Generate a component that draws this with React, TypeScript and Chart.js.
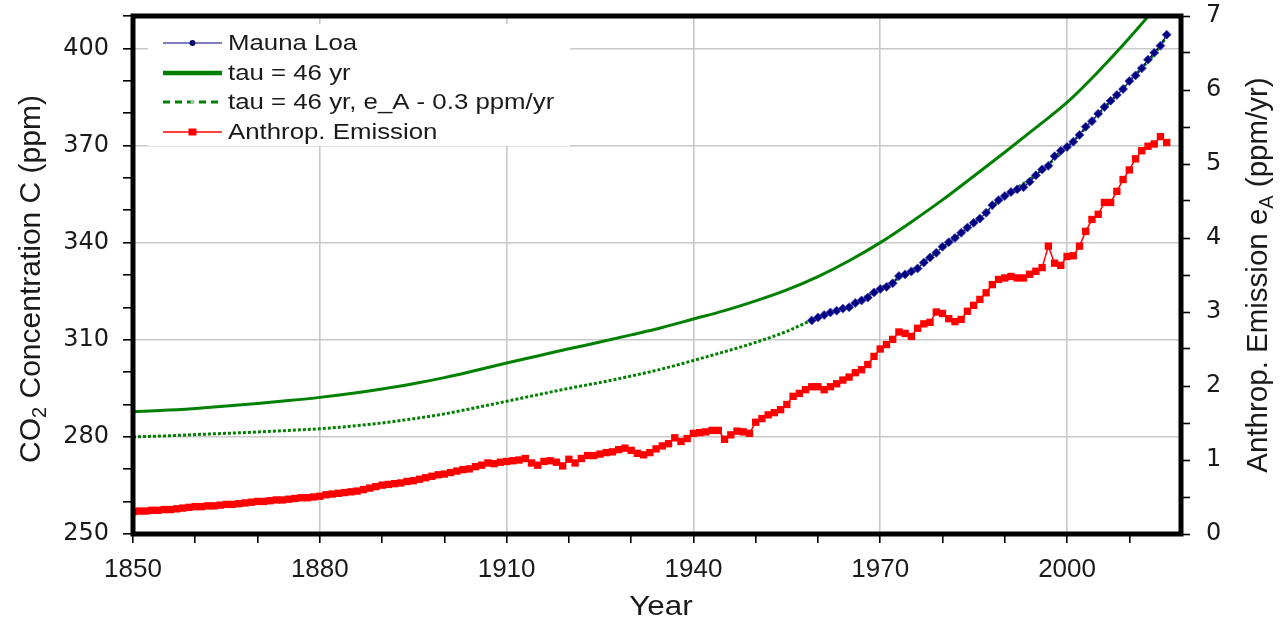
import React, { useEffect, useRef } from 'react';
import { Chart, registerables } from 'chart.js';

Chart.register(...registerables);

// ---------------- data ----------------
const MAUNA_LOA_START = 1959;
const MAUNA_LOA = [
  315.97, 316.91, 317.64, 318.45, 318.99, 319.62, 320.04, 321.38, 322.16, 323.04,
  324.62, 325.68, 326.32, 327.45, 329.68, 330.18, 331.11, 332.04, 333.83, 335.4,
  336.84, 338.75, 340.11, 341.45, 343.05, 344.65, 346.12, 347.42, 349.19, 351.57,
  353.12, 354.39, 355.61, 356.45, 357.1, 358.83, 360.82, 362.61, 363.73, 366.7,
  368.38, 369.55, 371.14, 373.28, 375.8, 377.52, 379.8, 381.9, 383.79, 385.6,
  387.43, 389.9, 391.65, 393.85, 396.52, 398.65, 400.83, 404.24,
];

const EMISSION_START = 1850;
const EMISSION = [
  0.30, 0.31, 0.31, 0.32, 0.32, 0.33, 0.33, 0.34, 0.35, 0.36,
  0.37, 0.37, 0.38, 0.38, 0.39, 0.40, 0.40, 0.41, 0.42, 0.43,
  0.44, 0.44, 0.45, 0.46, 0.46, 0.47, 0.48, 0.49, 0.49, 0.50,
  0.51, 0.53, 0.54, 0.55, 0.56, 0.57, 0.58, 0.60, 0.62, 0.64,
  0.66, 0.67, 0.68, 0.69, 0.71, 0.72, 0.74, 0.76, 0.78, 0.80,
  0.81, 0.83, 0.85, 0.87, 0.88, 0.91, 0.93, 0.96, 0.95, 0.97,
  0.98, 0.99, 1.00, 1.02, 0.96, 0.93, 0.98, 0.99, 0.97, 0.92,
  1.01, 0.96, 1.02, 1.06, 1.06, 1.08, 1.10, 1.11, 1.14, 1.16,
  1.13, 1.09, 1.07, 1.10, 1.15, 1.19, 1.22, 1.30, 1.25, 1.29,
  1.36, 1.37, 1.38, 1.40, 1.40, 1.28, 1.34, 1.39, 1.38, 1.36,
  1.51, 1.56, 1.61, 1.64, 1.68, 1.75, 1.86, 1.90, 1.95, 1.99,
  1.99, 1.95, 1.99, 2.03, 2.08, 2.12, 2.18, 2.22, 2.29, 2.40,
  2.50, 2.56, 2.63, 2.73, 2.71, 2.67, 2.78, 2.84, 2.86, 3.00,
  2.98, 2.91, 2.87, 2.90, 3.01, 3.09, 3.17, 3.26, 3.37, 3.44,
  3.46, 3.48, 3.46, 3.46, 3.51, 3.55, 3.60, 3.89, 3.66, 3.63,
  3.75, 3.76, 3.89, 4.09, 4.25, 4.32, 4.48, 4.48, 4.63, 4.79,
  4.92, 5.07, 5.18, 5.24, 5.27, 5.37, 5.29,
];

const MODEL_YEARS = [
  1850, 1855, 1860, 1865, 1870, 1875, 1880, 1885, 1890, 1895,
  1900, 1905, 1910, 1915, 1920, 1925, 1930, 1935, 1940, 1945,
  1950, 1955, 1960, 1965, 1970, 1975, 1980, 1985, 1990, 1995,
  2000, 2005, 2010, 2015, 2016,
];
const TAU46 = [
  287.8, 288.2, 288.8, 289.5, 290.3, 291.2, 292.2, 293.4, 294.8, 296.4,
  298.3, 300.5, 302.8, 305.0, 307.2, 309.3, 311.5, 313.8, 316.4, 319.0,
  322.0, 325.4, 329.5, 334.4, 340.0, 346.4, 353.2, 360.5, 367.9, 375.5,
  383.3, 392.8, 403.2, 414.5, 417.0,
];
const TAU46_ADJ = [
  280.0, 280.3, 280.7, 281.1, 281.5, 282.0, 282.5, 283.3, 284.3, 285.6,
  287.1, 289.0, 291.0, 293.0, 295.0, 296.8, 298.8, 301.0, 303.6, 306.3,
  309.2, 312.6, 316.9, 320.6, 325.9, 331.4, 338.5, 346.0, 354.2, 361.0,
  369.4, 379.6, 389.8, 400.8, 403.9,
];

const X_TICKS = [1850, 1860, 1870, 1880, 1890, 1900, 1910, 1920, 1930, 1940, 1950, 1960, 1970, 1980, 1990, 2000, 2010];
const X_LABELS = [1850, 1880, 1910, 1940, 1970, 2000];
const LEFT_TICKS = [250, 260, 270, 280, 290, 300, 310, 320, 330, 340, 350, 360, 370, 380, 390, 400, 410];
const LEFT_LABELS = [250, 280, 310, 340, 370, 400];
const RIGHT_TICKS = [0, 0.5, 1, 1.5, 2, 2.5, 3, 3.5, 4, 4.5, 5, 5.5, 6, 6.5, 7];
const RIGHT_LABELS = [0, 1, 2, 3, 4, 5, 6, 7];

const LEGEND_LABELS = ['Mauna Loa', 'tau = 46 yr', 'tau = 46 yr, e_A - 0.3 ppm/yr', 'Anthrop. Emission'];

// ---------------- styles ----------------
const NAVY = '#000080';
const GREEN = '#008000';
const RED = '#ff0000';
const GRID = '#c8c8c8';
const TEXT = '#1a1a1a';
const SANS = '"Liberation Sans", Arial, sans-serif';
const WIDE = '"DejaVu Sans", sans-serif';

const CANVAS_W = 1282;
const CANVAS_H = 624;

type Seg = { t: string; sub?: boolean };

function drawRich(ctx: CanvasRenderingContext2D, segs: Seg[], cx: number, cy: number, size: number, rot: number) {
  ctx.save();
  ctx.translate(cx, cy);
  ctx.rotate(rot);
  ctx.fillStyle = TEXT;
  ctx.textBaseline = 'middle';
  ctx.textAlign = 'left';
  const subSize = Math.round(size * 0.68);
  let total = 0;
  const widths = segs.map((s) => {
    ctx.font = `${s.sub ? subSize : size}px ${SANS}`;
    const w = ctx.measureText(s.t).width;
    total += w;
    return w;
  });
  let x = -total / 2;
  segs.forEach((s, i) => {
    ctx.font = `${s.sub ? subSize : size}px ${SANS}`;
    ctx.fillText(s.t, x, s.sub ? size * 0.28 : 0);
    x += widths[i];
  });
  ctx.restore();
}

const framePlugin = {
  id: 'frameAndText',
  beforeDatasetsDraw(chart: any) {
    const ctx: CanvasRenderingContext2D = chart.ctx;
    ctx.save();
    ctx.fillStyle = '#ffffff';
    ctx.fillRect(148, 24, 422, 122);
    const rows = [43, 73, 102, 132];
    const x0 = 163;
    const x1 = 222;
    const xm = (x0 + x1) / 2;
    // Mauna Loa
    ctx.strokeStyle = NAVY;
    ctx.lineWidth = 1.2;
    ctx.beginPath();
    ctx.moveTo(x0, rows[0]);
    ctx.lineTo(x1, rows[0]);
    ctx.stroke();
    ctx.fillStyle = '#0a0a70';
    ctx.beginPath();
    ctx.arc(xm, rows[0], 3, 0, Math.PI * 2);
    ctx.fill();
    // tau 46
    ctx.strokeStyle = GREEN;
    ctx.lineWidth = 4.5;
    ctx.beginPath();
    ctx.moveTo(x0, rows[1]);
    ctx.lineTo(x1, rows[1]);
    ctx.stroke();
    // tau 46 adj (dashed)
    ctx.lineWidth = 2.8;
    ctx.setLineDash([7, 5]);
    ctx.beginPath();
    ctx.moveTo(x0, rows[2]);
    ctx.lineTo(x1, rows[2]);
    ctx.stroke();
    ctx.setLineDash([]);
    ctx.fillStyle = '#a0c8a0';
    ctx.beginPath();
    ctx.arc(xm, rows[2], 2.2, 0, Math.PI * 2);
    ctx.fill();
    // emission
    ctx.strokeStyle = RED;
    ctx.lineWidth = 1.5;
    ctx.beginPath();
    ctx.moveTo(x0, rows[3]);
    ctx.lineTo(x1, rows[3]);
    ctx.stroke();
    ctx.fillStyle = RED;
    ctx.fillRect(xm - 4, rows[3] - 3.5, 8, 7);
    // labels
    ctx.fillStyle = TEXT;
    ctx.font = `21.5px ${SANS}`;
    ctx.textBaseline = 'middle';
    ctx.textAlign = 'left';
    LEGEND_LABELS.forEach((lab, i) => {
      ctx.save();
      ctx.translate(228, rows[i] + 1);
      ctx.scale(1.2, 1);
      ctx.fillText(lab, 0, 0);
      ctx.restore();
    });
    ctx.restore();
  },
  afterDatasetsDraw(chart: any) {
    const ctx: CanvasRenderingContext2D = chart.ctx;
    const a = chart.chartArea;
    ctx.save();
    ctx.strokeStyle = '#000000';
    ctx.lineWidth = 5;
    ctx.strokeRect(a.left, a.top, a.right - a.left, a.bottom - a.top);
    ctx.restore();
  },
  afterDraw(chart: any) {
    const ctx: CanvasRenderingContext2D = chart.ctx;
    drawRich(ctx, [{ t: 'CO' }, { t: '2', sub: true }, { t: ' Concentration C (ppm)' }], 32, 279, 30, -Math.PI / 2);
    drawRich(ctx, [{ t: 'Anthrop. Emission e' }, { t: 'A', sub: true }, { t: ' (ppm/yr)' }], 1259, 275, 29.5, -Math.PI / 2);
    ctx.save();
    ctx.fillStyle = TEXT;
    ctx.font = `28px ${SANS}`;
    ctx.textAlign = 'center';
    ctx.textBaseline = 'middle';
    ctx.translate(661, 607);
    ctx.scale(1.12, 1);
    ctx.fillText('Year', 0, 0);
    ctx.restore();
  },
};

export default function App() {
  const ref = useRef<HTMLCanvasElement | null>(null);

  useEffect(() => {
    document.body.style.margin = '0';
    document.body.style.overflow = 'hidden';
    const canvas = ref.current;
    if (!canvas) return;

    const mlData = MAUNA_LOA.map((v, i) => ({ x: MAUNA_LOA_START + i, y: v }));
    const emData = EMISSION.map((v, i) => ({ x: EMISSION_START + i, y: v }));
    const tauData = MODEL_YEARS.map((yr, i) => ({ x: yr, y: TAU46[i] }));
    const adjData = MODEL_YEARS.map((yr, i) => ({ x: yr, y: TAU46_ADJ[i] }));

    const majorGrid = (list: number[]) => (c: any) =>
      c.tick && list.includes(c.tick.value) ? GRID : 'rgba(0,0,0,0)';
    const labelCb = (list: number[]) => (v: any) => (list.includes(Number(v)) ? String(v) : '');
    const noPad = (s: any) => {
      s.paddingTop = 0;
      s.paddingBottom = 0;
      s.paddingLeft = 0;
      s.paddingRight = 0;
    };

    const chart = new Chart(canvas, {
      type: 'line',
      data: {
        datasets: [
          {
            label: LEGEND_LABELS[0],
            data: mlData,
            yAxisID: 'y',
            order: 0,
            borderColor: NAVY,
            borderWidth: 1.2,
            pointStyle: 'rectRot',
            pointRadius: 4.5,
            pointBackgroundColor: '#000080',
            pointBorderColor: '#4848b8',
            pointBorderWidth: 0.8,
          },
          {
            label: LEGEND_LABELS[2],
            data: adjData,
            yAxisID: 'y',
            order: 1,
            borderColor: GREEN,
            borderWidth: 3,
            borderDash: [3, 2],
            pointRadius: 0,
            cubicInterpolationMode: 'monotone',
          },
          {
            label: LEGEND_LABELS[1],
            data: tauData,
            yAxisID: 'y',
            order: 2,
            borderColor: GREEN,
            borderWidth: 3,
            pointRadius: 0,
            cubicInterpolationMode: 'monotone',
          },
          {
            label: LEGEND_LABELS[3],
            data: emData,
            yAxisID: 'y2',
            order: 3,
            borderColor: RED,
            borderWidth: 1.5,
            pointStyle: 'rect',
            pointRadius: 5.2,
            pointBackgroundColor: RED,
            pointBorderWidth: 0,
          },
        ],
      },
      options: {
        responsive: false,
        animation: false,
        devicePixelRatio: 1,
        events: [],
        layout: { padding: { top: 16, left: 0, right: 0, bottom: 0 } },
        plugins: {
          legend: { display: false },
          tooltip: { enabled: false },
          title: { display: false },
        },
        scales: {
          x: {
            type: 'linear',
            position: 'bottom',
            min: 1850,
            max: 2018.3,
            afterBuildTicks: (s: any) => {
              s.ticks = X_TICKS.map((v) => ({ value: v }));
            },
            afterFit: (s: any) => {
              s.height = 90;
              noPad(s);
            },
            border: { display: false },
            grid: {
              color: majorGrid(X_LABELS),
              lineWidth: 1.6,
              tickColor: '#000',
              tickWidth: 1.6,
              tickLength: 9,
            },
            ticks: {
              autoSkip: false,
              maxRotation: 0,
              minRotation: 0,
              padding: 11,
              color: TEXT,
              font: { family: SANS, size: 26 },
              callback: labelCb(X_LABELS),
            },
          },
          y: {
            type: 'linear',
            position: 'left',
            min: 250,
            max: 410,
            afterBuildTicks: (s: any) => {
              s.ticks = LEFT_TICKS.map((v) => ({ value: v }));
            },
            afterFit: (s: any) => {
              s.width = 133;
              noPad(s);
            },
            border: { display: false },
            grid: {
              color: majorGrid(LEFT_LABELS),
              lineWidth: 1.6,
              tickColor: '#000',
              tickWidth: 1.6,
              tickLength: 10,
            },
            ticks: {
              autoSkip: false,
              padding: 14,
              color: TEXT,
              font: { family: WIDE, size: 24 },
              callback: labelCb(LEFT_LABELS),
            },
          },
          y2: {
            type: 'linear',
            position: 'right',
            min: 0,
            max: 7,
            afterBuildTicks: (s: any) => {
              s.ticks = RIGHT_TICKS.map((v) => ({ value: v }));
            },
            afterFit: (s: any) => {
              s.width = 101;
              noPad(s);
            },
            border: { display: false },
            grid: {
              drawOnChartArea: false,
              tickColor: '#000',
              tickWidth: 1.6,
              tickLength: 9,
            },
            ticks: {
              autoSkip: false,
              padding: 16,
              color: TEXT,
              font: { family: WIDE, size: 24 },
              callback: labelCb(RIGHT_LABELS),
            },
          },
        },
      },
      plugins: [framePlugin],
    } as any);

    return () => {
      chart.destroy();
    };
  }, []);

  return (
    <div style={{ width: CANVAS_W, height: CANVAS_H, background: '#fff' }}>
      <canvas ref={ref} width={CANVAS_W} height={CANVAS_H} style={{ display: 'block' }} />
    </div>
  );
}
